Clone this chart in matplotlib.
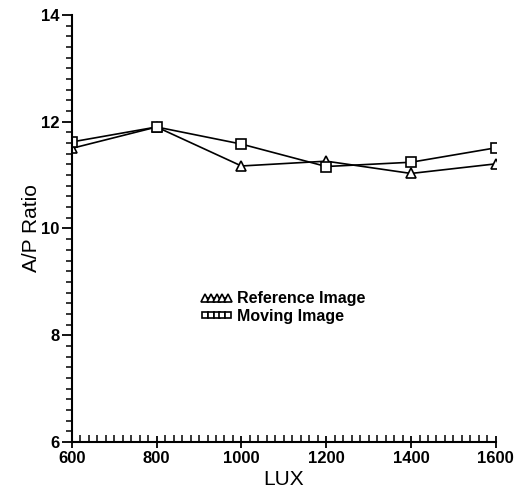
import matplotlib
matplotlib.use("Agg")
import matplotlib.pyplot as plt
from matplotlib.ticker import MultipleLocator

lux = [600, 800, 1000, 1200, 1400, 1600]
reference_image = [11.50, 11.90, 11.17, 11.26, 11.03, 11.21]
moving_image = [11.62, 11.90, 11.58, 11.16, 11.24, 11.51]
x_ticks = [600, 800, 1000, 1200, 1400, 1600]
y_ticks = [6, 8, 10, 12, 14]

plt.rcParams['font.family'] = ['Liberation Sans', 'DejaVu Sans']

fig = plt.figure(figsize=(5.32, 4.94), dpi=100)
ax = fig.add_axes([0.135, 0.105, 0.797, 0.865])

ax.plot(lux, reference_image, color='black', lw=1.2, marker='^', ms=7.5,
        mfc='white', mec='black', mew=1.2, label='Reference Image')
ax.plot(lux, moving_image, color='black', lw=1.2, marker='s', ms=7,
        mfc='white', mec='black', mew=1.2, label='Moving Image')

ax.set_xlim(600, 1600)
ax.set_ylim(6, 14)
ax.set_xticks(x_ticks)
ax.set_yticks(y_ticks)
ax.xaxis.set_minor_locator(MultipleLocator(20))
ax.yaxis.set_minor_locator(MultipleLocator(0.2))

for s in ['top', 'right']:
    ax.spines[s].set_visible(False)
for s in ['left', 'bottom']:
    ax.spines[s].set_linewidth(1.5)

ax.tick_params(axis='x', which='major', direction='inout', length=9, width=1.3,
               labelsize=12, pad=2)
ax.tick_params(axis='x', which='minor', direction='in', length=5, width=1.1)
ax.tick_params(axis='y', which='major', direction='out', length=7, width=1.3,
               labelsize=12, pad=2)
ax.tick_params(axis='y', which='minor', direction='out', length=4, width=1.1)

for lbl in ax.get_xticklabels() + ax.get_yticklabels():
    lbl.set_fontweight('bold')

ax.set_xlabel('LUX', fontsize=15, labelpad=3)
ax.set_ylabel('A/P Ratio', fontsize=15, labelpad=0)

leg = ax.legend(loc='center left', bbox_to_anchor=(0.27, 0.315), frameon=False,
                numpoints=5, handlelength=2.0, handletextpad=0.3, labelspacing=0.15,
                markerscale=0.7, prop={'weight': 'bold', 'size': 11.5})

fig.savefig('out.png', dpi=100)
